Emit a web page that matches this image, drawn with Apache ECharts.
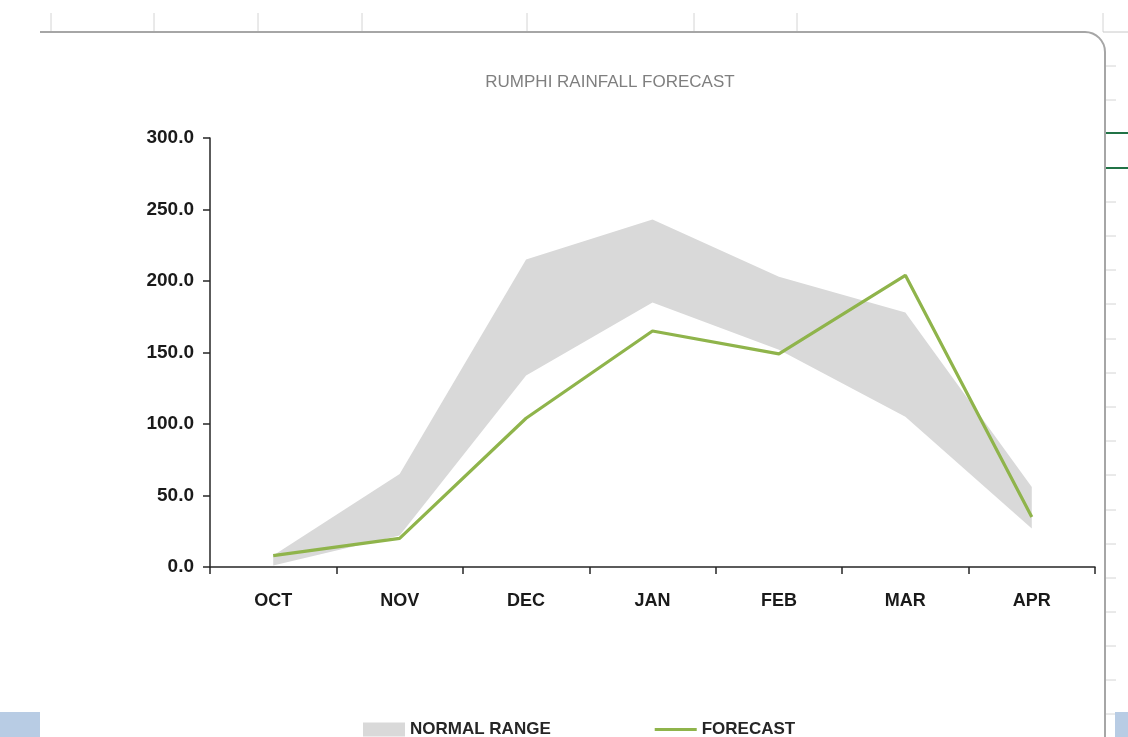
<!DOCTYPE html>
<html>
<head>
<meta charset="utf-8">
<script src="https://cdn.jsdelivr.net/npm/echarts@6/dist/echarts.min.js"></script>
<style>
html,body{margin:0;padding:0;background:#fff;}
#chart{width:1128px;height:737px;}
</style>
</head>
<body>
<div id="chart"></div>
<script>
const months = ['OCT','NOV','DEC','JAN','FEB','MAR','APR'];
const normalLow  = [1, 22, 134, 185, 152, 105, 27];
const normalHigh = [8, 65, 215, 243, 203, 178, 56];
const forecast   = [8, 20, 104, 165, 149, 204, 35];
const yTicks = [0, 50, 100, 150, 200, 250, 300];

const rangeWidth = normalHigh.map((h, i) => h - normalLow[i]);
const FONT = '"Liberation Sans", Arial, sans-serif';

const chart = echarts.init(document.getElementById('chart'), null, {renderer: 'canvas'});

const deco = [];
// spreadsheet cell lines above the chart
[51, 154, 258, 362, 527, 694, 797, 1103].forEach(x => {
  deco.push({type: 'line', silent: true, z: -1,
    shape: {x1: x, y1: 13, x2: x, y2: 32},
    style: {stroke: '#d4d4d4', lineWidth: 1}});
});
// right-side row ticks
[66, 100, 202, 236, 270, 304, 339, 373, 407, 441, 475, 510, 544, 578, 612, 646, 680, 714].forEach(y => {
  deco.push({type: 'line', silent: true, z: -1,
    shape: {x1: 1106, y1: y, x2: 1116, y2: y},
    style: {stroke: '#d4d4d4', lineWidth: 1}});
});
[133, 168].forEach(y => {
  deco.push({type: 'line', silent: true, z: -1,
    shape: {x1: 1106, y1: y, x2: 1128, y2: y},
    style: {stroke: '#217346', lineWidth: 2}});
});
// chart frame (top border with rounded corner + right border)
deco.push({type: 'polyline', silent: true, z: -1,
  shape: {points: [[40, 32], [1085, 32]]},
  style: {stroke: '#a6a6a6', lineWidth: 2, fill: null}});
deco.push({type: 'arc', silent: true, z: -1,
  shape: {cx: 1085, cy: 52, r: 20, startAngle: -Math.PI / 2, endAngle: 0},
  style: {stroke: '#a6a6a6', lineWidth: 2, fill: null}});
deco.push({type: 'line', silent: true, z: -1,
  shape: {x1: 1105, y1: 52, x2: 1105, y2: 737},
  style: {stroke: '#a6a6a6', lineWidth: 2}});
deco.push({type: 'line', silent: true, z: -1,
  shape: {x1: 1103, y1: 32, x2: 1128, y2: 32},
  style: {stroke: '#c8c8c8', lineWidth: 1}});
// selection-like blue boxes at the bottom corners
deco.push({type: 'rect', silent: true, z: -1,
  shape: {x: 0, y: 712, width: 40, height: 25}, style: {fill: '#b8cce4'}});
deco.push({type: 'rect', silent: true, z: -1,
  shape: {x: 1115, y: 712, width: 13, height: 25}, style: {fill: '#b8cce4'}});

// legend icon for the forecast: a plain thick line (tiny corner specks keep the 42x14 box)
const lineIcon = 'path://M0,0 L0.01,0 L0,0.01 Z M0,5.5 L42,5.5 L42,8.5 L0,8.5 Z M42,14 L41.99,14 L42,13.99 Z';

chart.setOption({
  backgroundColor: '#ffffff',
  animation: false,
  title: {
    text: 'RUMPHI RAINFALL FORECAST',
    left: 605, top: 69, textAlign: 'center',
    textStyle: {fontFamily: FONT, fontSize: 17, fontWeight: 'normal', color: '#7f7f7f'}
  },
  legend: {
    left: 358, top: 716,
    itemWidth: 42, itemHeight: 14, itemGap: 104,
    textStyle: {fontFamily: FONT, fontSize: 17, fontWeight: 'bold', color: '#262626'},
    data: [
      {name: 'NORMAL RANGE', icon: 'rect', itemStyle: {color: '#d9d9d9'}},
      {name: 'FORECAST', icon: lineIcon, itemStyle: {color: '#8fb44b'}}
    ]
  },
  grid: {left: 210, right: 33, top: 138, bottom: 170},
  xAxis: {
    type: 'category',
    data: months,
    boundaryGap: true,
    axisLine: {lineStyle: {color: '#262626', width: 1.5}},
    axisTick: {show: true, interval: 0, length: 7, lineStyle: {color: '#262626', width: 1.5}},
    axisLabel: {fontFamily: FONT, fontSize: 18, fontWeight: 'bold', color: '#1a1a1a', margin: 25},
    splitLine: {show: false}
  },
  yAxis: {
    type: 'value',
    min: yTicks[0], max: yTicks[yTicks.length - 1], interval: 50,
    axisLine: {show: true, lineStyle: {color: '#262626', width: 1.5}},
    axisTick: {show: true, length: 7, lineStyle: {color: '#262626', width: 1.5}},
    axisLabel: {fontFamily: FONT, fontSize: 19, fontWeight: 'bold', color: '#1a1a1a', margin: 16,
      formatter: v => v.toFixed(1)},
    splitLine: {show: false}
  },
  series: [
    {
      name: 'low', type: 'line', stack: 'range', data: normalLow,
      symbol: 'none', lineStyle: {opacity: 0}, areaStyle: {opacity: 0}, silent: true
    },
    {
      name: 'NORMAL RANGE', type: 'line', stack: 'range', data: rangeWidth,
      symbol: 'none', lineStyle: {opacity: 0}, itemStyle: {color: '#d9d9d9'},
      areaStyle: {color: '#d9d9d9', opacity: 1}
    },
    {
      name: 'FORECAST', type: 'line', data: forecast,
      symbol: 'none', itemStyle: {color: '#8fb44b'},
      lineStyle: {color: '#8fb44b', width: 3.2}, z: 5
    }
  ],
  graphic: deco
});
</script>
</body>
</html>
